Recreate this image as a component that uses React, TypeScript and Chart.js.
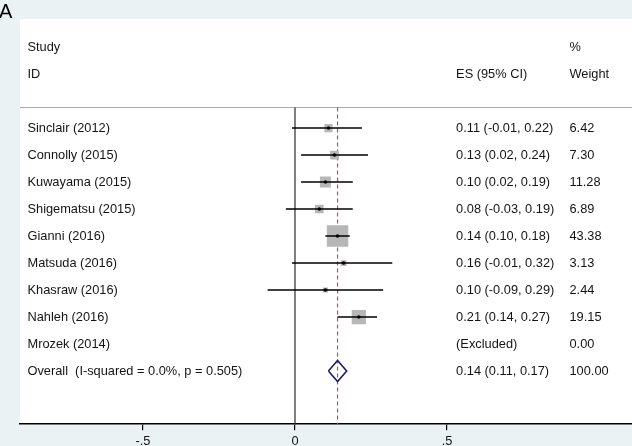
import React, { useEffect, useRef } from "react";
import { Chart, registerables } from "chart.js";

Chart.register(...registerables);

// ---- data ----
const studies = [
  "Sinclair (2012)",
  "Connolly (2015)",
  "Kuwayama (2015)",
  "Shigematsu (2015)",
  "Gianni (2016)",
  "Matsuda (2016)",
  "Khasraw (2016)",
  "Nahleh (2016)",
  "Mrozek (2014)",
];
const esValues: (number | null)[] = [0.11, 0.13, 0.1, 0.08, 0.14, 0.16, 0.1, 0.21, null];
const lowerCI: (number | null)[] = [-0.01, 0.02, 0.02, -0.03, 0.1, -0.01, -0.09, 0.14, null];
const upperCI: (number | null)[] = [0.22, 0.24, 0.19, 0.19, 0.18, 0.32, 0.29, 0.27, null];
const weights = [6.42, 7.3, 11.28, 6.89, 43.38, 3.13, 2.44, 19.15, 0.0];
const overallLabel = "Overall  (I-squared = 0.0%, p = 0.505)";
const overallES = [0.14];
const overallCI = [0.11, 0.17];
const overallWeight = [100.0];
const xTicks = [-0.5, 0, 0.5];
const xTickLabels = ["-.5", "0", ".5"];
const excludedText = "(Excluded)";
const panelLabel = "A";
const headerStudy = ["Study", "ID"];
const headerES = "ES (95% CI)";
const headerWeight = ["%", "Weight"];

// ---- layout constants ----
const X_MIN = -0.9046;
const X_MAX = 1.1086;
const Y_MIN = -4.04;
const Y_MAX = 10.97;
const SEP_ROW = -0.76;
const COL_STUDY = -0.88;
const COL_ES = 0.53;
const COL_WT = 0.903;
const FONT = "'Liberation Sans', Arial, sans-serif";
const FS = 12.8;
const TEXT = "#141414";

const fmt = (v: number) => v.toFixed(2);

const forestPlugin = {
  id: "forestText",
  beforeDraw(chart: any) {
    const { ctx, chartArea, width, height } = chart;
    ctx.save();
    ctx.fillStyle = "#eaf2f3";
    ctx.fillRect(0, 0, width, height);
    ctx.fillStyle = "#ffffff";
    ctx.fillRect(chartArea.left, chartArea.top, chartArea.right - chartArea.left, chartArea.bottom - chartArea.top);
    ctx.restore();
  },
  afterDraw(chart: any) {
    const { ctx } = chart;
    const xs = chart.scales.x;
    const ys = chart.scales.y;
    ctx.save();
    ctx.fillStyle = "#000";
    ctx.font = `20px ${FONT}`;
    ctx.textBaseline = "alphabetic";
    ctx.textAlign = "left";
    ctx.fillText(panelLabel, -1, 18);

    ctx.fillStyle = TEXT;
    ctx.font = `${FS}px ${FONT}`;
    ctx.textBaseline = "middle";
    const put = (t: string, xv: number, row: number) => {
      ctx.fillText(t, xs.getPixelForValue(xv), ys.getPixelForValue(row));
    };
    put(headerStudy[0], COL_STUDY, -3);
    put(headerStudy[1], COL_STUDY, -2);
    put(headerES, COL_ES, -2);
    put(headerWeight[0], COL_WT, -3);
    put(headerWeight[1], COL_WT, -2);
    studies.forEach((s, i) => {
      put(s, COL_STUDY, i);
      const e = esValues[i];
      const lo = lowerCI[i];
      const hi = upperCI[i];
      const esText = e === null || lo === null || hi === null ? excludedText : `${fmt(e)} (${fmt(lo)}, ${fmt(hi)})`;
      put(esText, COL_ES, i);
      put(fmt(weights[i]), COL_WT, i);
    });
    const oRow = studies.length;
    put(overallLabel, COL_STUDY, oRow);
    put(`${fmt(overallES[0])} (${fmt(overallCI[0])}, ${fmt(overallCI[1])})`, COL_ES, oRow);
    put(fmt(overallWeight[0]), COL_WT, oRow);
    ctx.restore();
  },
};

export default function App() {
  const ref = useRef<HTMLCanvasElement | null>(null);

  useEffect(() => {
    if (!ref.current) return;
    const oRow = studies.length;
    const datasets: any[] = [];

    // separator line
    datasets.push({
      data: [
        { x: X_MIN, y: SEP_ROW },
        { x: X_MAX, y: SEP_ROW },
      ],
      showLine: true,
      borderColor: "#a8a8a8",
      borderWidth: 1,
      pointRadius: 0,
      order: 10,
    });
    // zero line
    datasets.push({
      data: [
        { x: 0, y: SEP_ROW },
        { x: 0, y: Y_MAX },
      ],
      showLine: true,
      borderColor: "#2a2a2a",
      borderWidth: 1.2,
      pointRadius: 0,
      order: 9,
    });
    // overall dashed line
    datasets.push({
      data: [
        { x: overallES[0], y: SEP_ROW },
        { x: overallES[0], y: Y_MAX },
      ],
      showLine: true,
      borderColor: "#a3557a",
      borderWidth: 1.2,
      borderDash: [4, 3],
      pointRadius: 0,
      order: 8,
    });
    // weight squares
    const sqData: any[] = [];
    const sqRadius: number[] = [];
    studies.forEach((_, i) => {
      const e = esValues[i];
      if (e === null) return;
      sqData.push({ x: e, y: i });
      sqRadius.push(2.3 * Math.sqrt(weights[i]));
    });
    datasets.push({
      data: sqData,
      pointStyle: "rect",
      pointRadius: sqRadius,
      pointBackgroundColor: "#b7b7b7",
      pointBorderWidth: 0,
      pointBorderColor: "rgba(0,0,0,0)",
      showLine: false,
      order: 7,
    });
    // CI lines
    studies.forEach((_, i) => {
      const lo = lowerCI[i];
      const hi = upperCI[i];
      if (lo === null || hi === null) return;
      datasets.push({
        data: [
          { x: lo, y: i },
          { x: hi, y: i },
        ],
        showLine: true,
        borderColor: "#000",
        borderWidth: 1.6,
        pointRadius: 0,
        order: 6,
      });
    });
    // center dots
    datasets.push({
      data: sqData,
      pointStyle: "circle",
      pointRadius: 1.8,
      pointBackgroundColor: "#000",
      pointBorderWidth: 0,
      showLine: false,
      order: 5,
    });
    // overall diamond
    const dh = 0.39;
    datasets.push({
      data: [
        { x: overallCI[0], y: oRow },
        { x: overallES[0], y: oRow - dh },
        { x: overallCI[1], y: oRow },
        { x: overallES[0], y: oRow + dh },
        { x: overallCI[0], y: oRow },
      ],
      showLine: true,
      borderColor: "#1c1c6e",
      borderWidth: 1.6,
      borderJoinStyle: "miter",
      pointRadius: 0,
      fill: false,
      tension: 0,
      order: 4,
    });

    const chart = new Chart(ref.current, {
      type: "scatter",
      data: { datasets },
      plugins: [forestPlugin],
      options: {
        animation: false,
        responsive: false,
        events: [],
        layout: { autoPadding: false, padding: { left: 20, right: 0, top: 19, bottom: -7 } },
        plugins: { legend: { display: false }, tooltip: { enabled: false } },
        scales: {
          x: {
            type: "linear",
            min: X_MIN,
            max: X_MAX,
            position: "bottom",
            afterBuildTicks: (s: any) => {
              s.ticks = xTicks.map((v) => ({ value: v }));
            },
            grid: {
              display: true,
              drawOnChartArea: false,
              drawTicks: true,
              tickLength: 6,
              color: "#000",
              lineWidth: 1.2,
            },
            border: { display: true, color: "#000", width: 1.5 },
            ticks: {
              color: TEXT,
              font: { family: FONT, size: FS, lineHeight: 1 },
              padding: 5,
              maxRotation: 0,
              autoSkip: false,
              callback: (v: any) => {
                const idx = xTicks.indexOf(Number(v));
                return idx >= 0 ? xTickLabels[idx] : "";
              },
            },
          },
          y: {
            type: "linear",
            display: false,
            min: Y_MIN,
            max: Y_MAX,
            reverse: true,
          },
        },
      },
    });
    return () => chart.destroy();
  }, []);

  return (
    <div style={{ position: "fixed", left: 0, top: 0, width: 632, height: 446 }}>
      <canvas ref={ref} width={632} height={446} style={{ width: 632, height: 446, display: "block" }} />
    </div>
  );
}
